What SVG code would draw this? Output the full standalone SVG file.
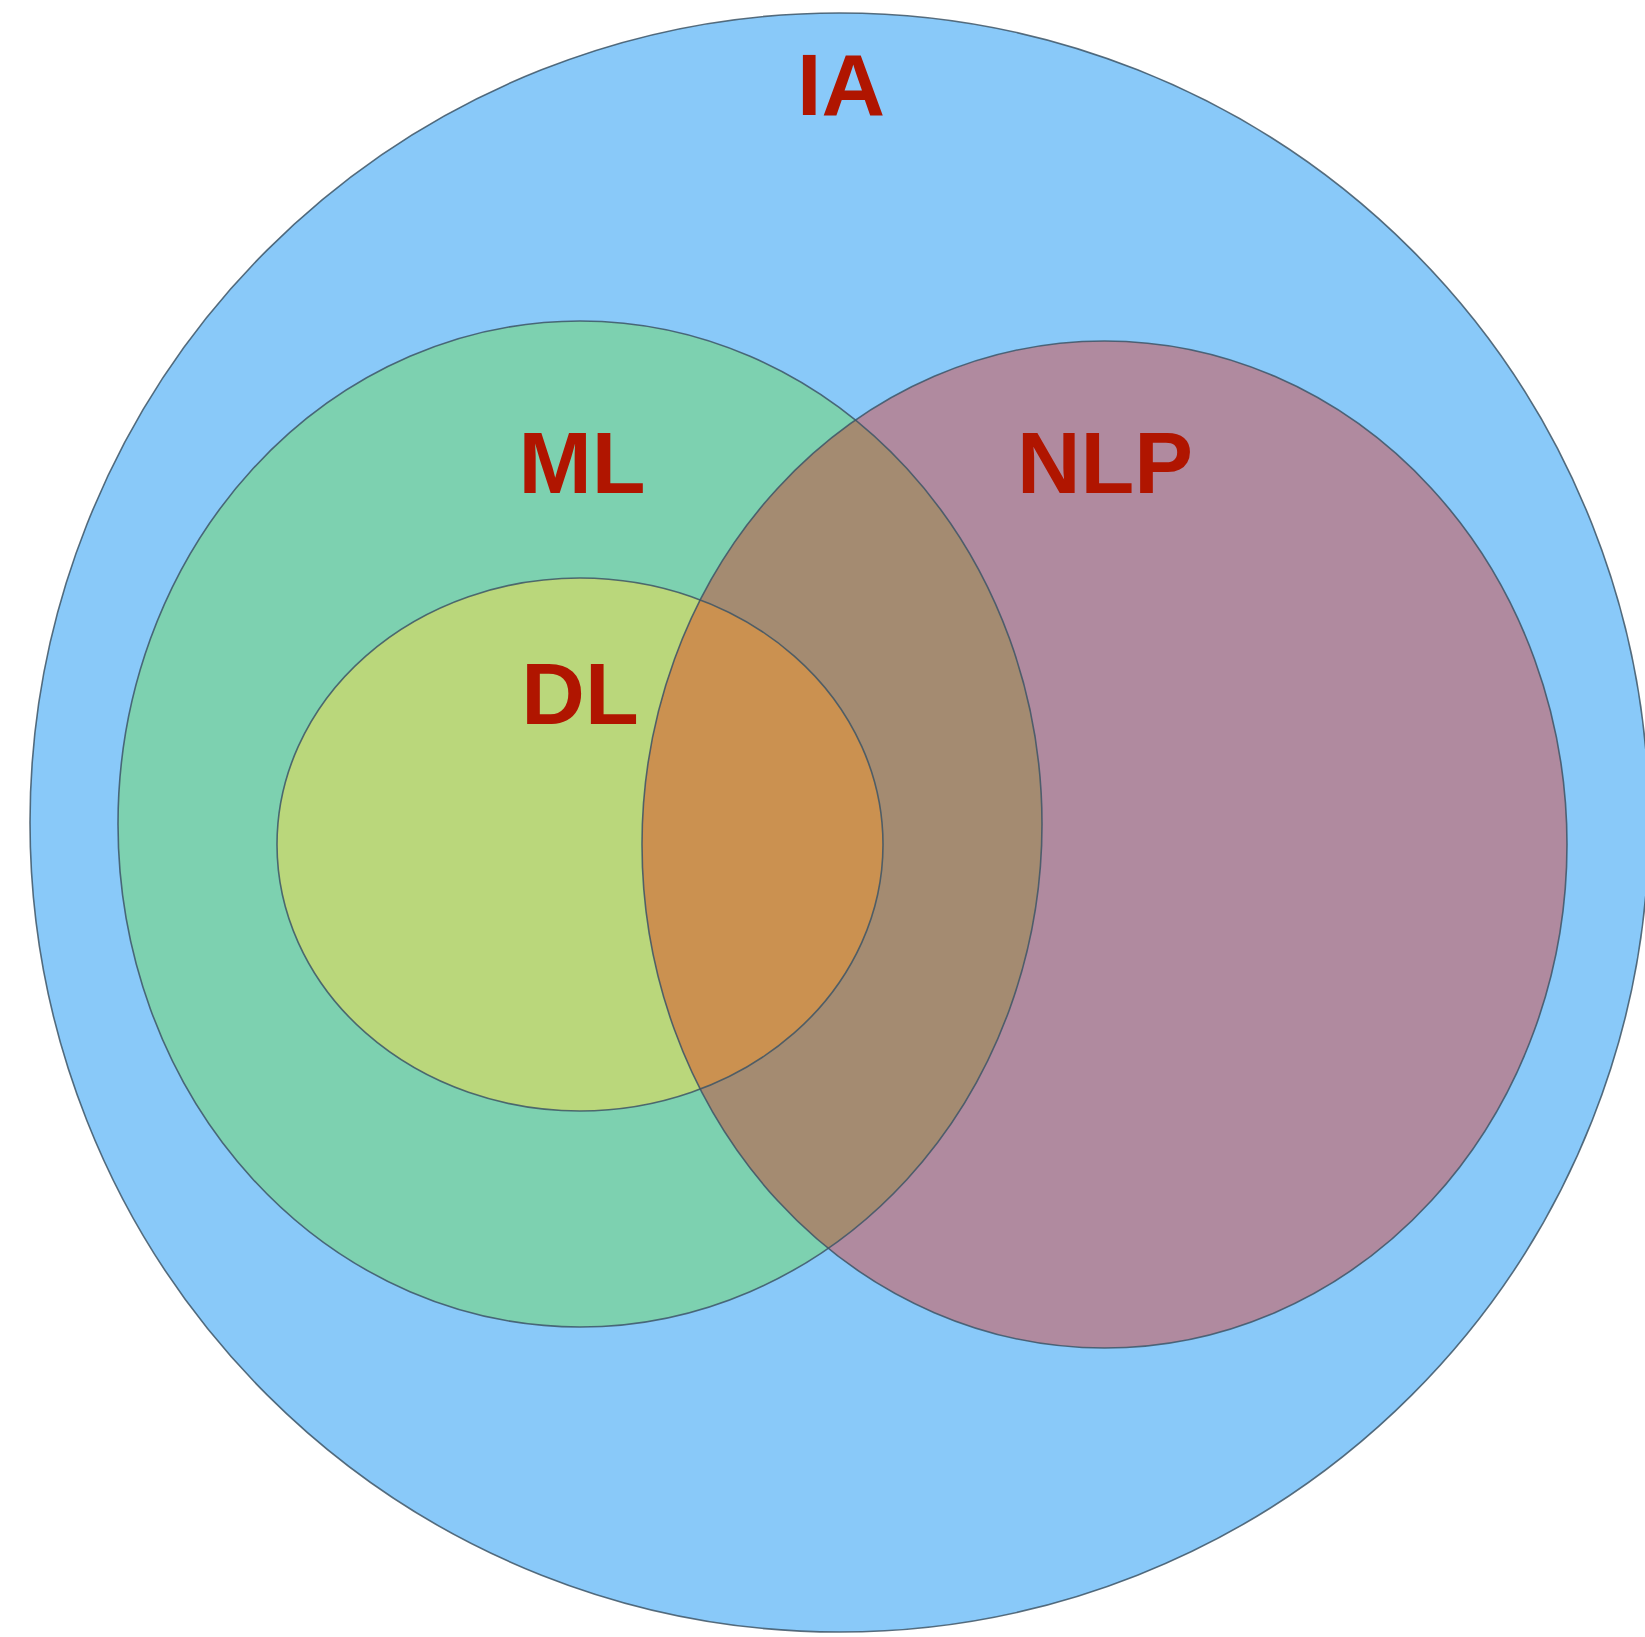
<svg xmlns="http://www.w3.org/2000/svg" width="1645" height="1637" viewBox="0 0 1645 1637">
<style>
.edge{fill:none;stroke:#3d5566;stroke-width:1.6;stroke-opacity:0.85}
.lbl{font-family:"Liberation Sans",Arial,sans-serif;font-weight:bold;font-size:88px;fill:#b01500;text-anchor:middle}
</style>
<defs>
<clipPath id="clipNLP"><ellipse cx="1104.5" cy="844.5" rx="462.5" ry="503.5"/></clipPath>
</defs>
<rect width="1645" height="1637" fill="#ffffff"/>
<g id="IA">
<ellipse cx="839.5" cy="822.5" rx="809.5" ry="809.5" fill="#89c9f9"/>
<ellipse class="edge" cx="839.5" cy="822.5" rx="809.5" ry="809.5" stroke="#6a6a6a"/>
<text class="lbl" x="841" y="115">IA</text>
</g>
<g id="ML">
<ellipse cx="580" cy="824" rx="462" ry="503" fill="#7dd1b0"/>
</g>
<g id="DL">
<ellipse cx="580" cy="844.5" rx="303" ry="266.5" fill="#bad77b"/>
</g>
<g id="NLP">
<ellipse cx="1104.5" cy="844.5" rx="462.5" ry="503.5" fill="#b08a9f"/>
<g clip-path="url(#clipNLP)">
<ellipse cx="580" cy="824" rx="462" ry="503" fill="#a48b71"/>
<ellipse cx="580" cy="844.5" rx="303" ry="266.5" fill="#cb9150"/>
</g>
</g>
<g id="outlines">
<ellipse class="edge" cx="580" cy="824" rx="462" ry="503"/>
<ellipse class="edge" cx="580" cy="844.5" rx="303" ry="266.5"/>
<ellipse class="edge" cx="1104.5" cy="844.5" rx="462.5" ry="503.5"/>
</g>
<g id="labels">
<text class="lbl" x="582" y="493">ML</text>
<text class="lbl" x="1105" y="493">NLP</text>
<text class="lbl" x="580" y="724">DL</text>
</g>
</svg>
